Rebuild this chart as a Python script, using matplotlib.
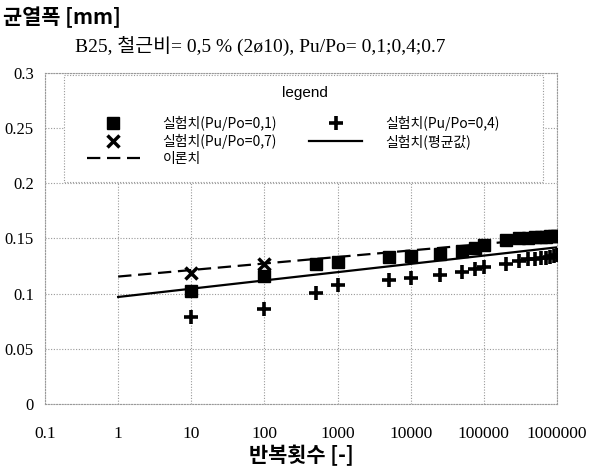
import matplotlib
matplotlib.use("Agg")
import matplotlib.pyplot as plt
from matplotlib.lines import Line2D
from matplotlib.patches import Rectangle

# ---- data ----
n_sq = [10, 100, 500, 1000, 5000, 10000, 25000, 50000, 75000, 100000,
        200000, 300000, 400000, 500000, 600000, 700000, 800000, 900000, 1000000]
y_sq = [0.102, 0.116, 0.127, 0.129, 0.133, 0.134, 0.136, 0.139, 0.141, 0.144,
        0.149, 0.150, 0.150, 0.151, 0.151, 0.151, 0.152, 0.152, 0.152]

n_plus = [10, 100, 500, 1000, 5000, 10000, 25000, 50000, 75000, 100000,
          200000, 300000, 400000, 500000, 600000, 700000, 800000, 900000, 1000000]
y_plus = [0.079, 0.086, 0.101, 0.108, 0.112, 0.114, 0.117, 0.120, 0.122, 0.124,
          0.127, 0.130, 0.131, 0.131, 0.132, 0.132, 0.133, 0.134, 0.135]

n_x = [10, 100]
y_x = [0.119, 0.127]

n_mean = [1, 1000000]
y_mean = [0.097, 0.142]

n_theory = [1, 1000000]
y_theory = [0.1155, 0.151]

xticks = [0.1, 1, 10, 100, 1000, 10000, 100000, 1000000]
xtick_labels = ["0.1", "1", "10", "100", "1000", "10000", "100000", "1000000"]
yticks = [0, 0.05, 0.1, 0.15, 0.2, 0.25, 0.3]
ytick_labels = ["0", "0.05", "0.1", "0.15", "0.2", "0.25", "0.3"]

labels = ["실험치(Pu/Po=0,1)", "실험치(Pu/Po=0,7)", "이론치",
          "실험치(Pu/Po=0,4)", "실험치(평균값)"]

KR = ["Noto Sans CJK KR", "DejaVu Sans"]
SERIF = ["Liberation Serif", "Noto Sans CJK KR"]

W, H = 589, 470
fig = plt.figure(figsize=(W/100, H/100), dpi=100)
ax = fig.add_axes([45/W, 1-404/H, 512/W, 331/H])

ax.set_xscale("log")
ax.set_xlim(0.1, 1000000)
ax.set_ylim(0, 0.3)

ax.plot(n_theory, y_theory, color="black", lw=1.6, ls=(0, (6, 3)), zorder=3)
ax.plot(n_mean, y_mean, color="black", lw=1.6, ls="-", zorder=3)
ax.plot(n_x, y_x, ls="none", marker="x", ms=8, mew=2.5, color="black", zorder=4)
ax.plot(n_sq, y_sq, ls="none", marker="s", ms=9, color="black", zorder=5)
ax.plot(n_plus, y_plus, ls="none", marker="+", ms=10, mew=2.6, color="black", zorder=5)

ax.set_xticks(xticks)
ax.set_xticklabels(xtick_labels, family=SERIF, fontsize=12.5)
ax.set_yticks(yticks)
ax.set_yticklabels(ytick_labels, family=SERIF, fontsize=12)
ax.minorticks_off()
ax.tick_params(axis="both", length=0)
ax.tick_params(axis="x", pad=16)
ax.tick_params(axis="y", pad=8)

ax.grid(True, color="#999999", ls=(0, (1, 1.5)), lw=0.8)
for s in ax.spines.values():
    s.set_color("#999999")
    s.set_linestyle((0, (1, 1.5)))
    s.set_linewidth(0.8)

ax.set_xlabel("반복횟수 [-]", family=KR, fontsize=15, fontweight="bold", labelpad=2)

fig.text(3/W, 1-17/H, "균열폭 [mm]", family=KR, fontsize=15,
         fontweight="bold", va="center", ha="left")
fig.text(75/W, 1-47/H, "B25, 철근비= 0,5 % (2ø10), Pu/Po= 0,1;0,4;0.7",
         family=SERIF, fontsize=14, va="center", ha="left")

# legend frame (drawn separately for exact placement)
frame = Rectangle(((64-45)/512, (404-182)/331), 479/512, 107/331,
                  transform=ax.transAxes, facecolor="white", edgecolor="#999999",
                  lw=0.8, ls=(0, (1, 1.5)), zorder=9)
ax.add_patch(frame)
fig.text(305/W, 1-93/H, "legend", family=["Liberation Sans", "DejaVu Sans"],
         fontsize=11, ha="center", va="center", zorder=11)

handles = [
    Line2D([], [], ls="none", marker="s", ms=9, color="black"),
    Line2D([], [], ls="none", marker="x", ms=8, mew=2.5, color="black"),
    Line2D([], [], color="black", lw=1.6, ls=(0, (6, 3))),
    Line2D([], [], ls="none", marker="+", ms=10, mew=2.6, color="black"),
    Line2D([], [], color="black", lw=1.6, ls="-"),
]
leg = ax.legend(handles, labels, ncol=2, loc="upper left",
                bbox_to_anchor=((87-45)/512, (404-116)/331),
                borderaxespad=0, borderpad=0,
                prop={"family": KR, "size": 10},
                handlelength=3.8, handletextpad=1.65, columnspacing=2.3,
                labelspacing=0.2, frameon=False)
leg.set_zorder(10)

fig.savefig("out.png", dpi=100)
